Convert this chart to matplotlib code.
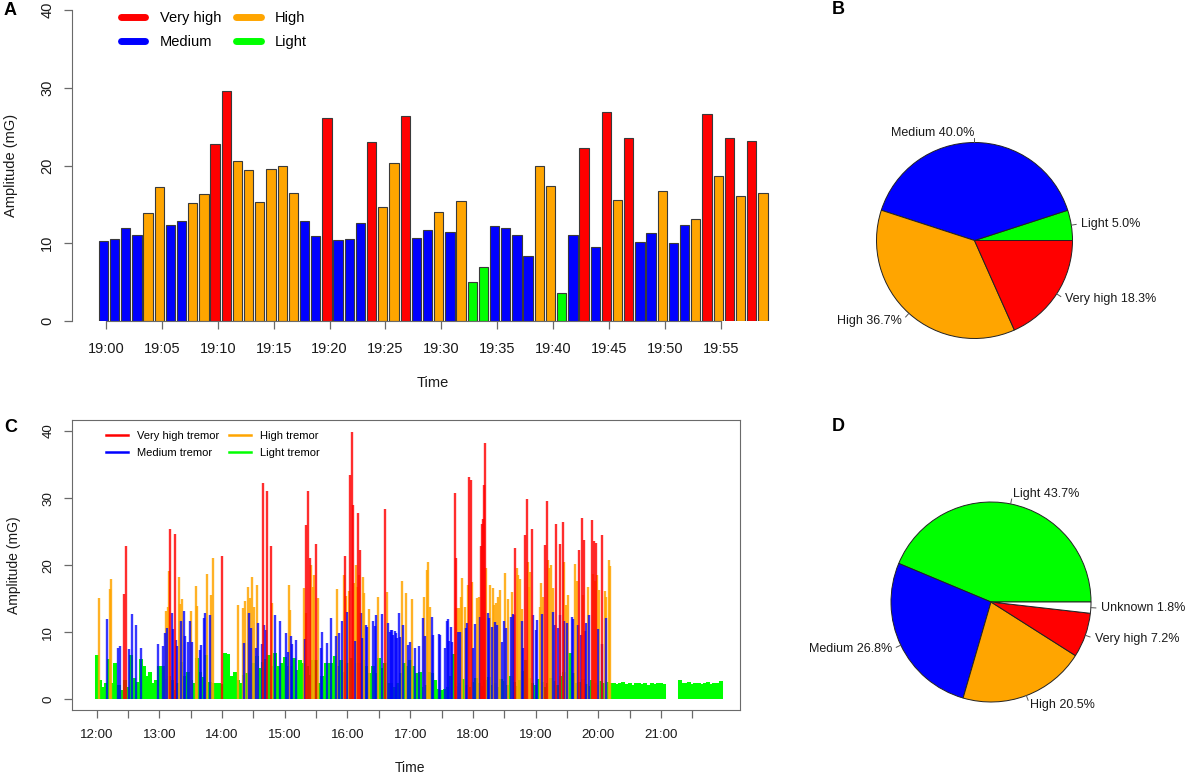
import numpy as np
import matplotlib
matplotlib.use("Agg")
import matplotlib.pyplot as plt
from matplotlib.lines import Line2D

plt.rcParams['font.family'] = ['Liberation Sans', 'DejaVu Sans']

### Daten
# A: one bar per minute, 19:00 - 19:59
minute_amp = [10.3, 10.5, 11.9, 11.0, 13.9, 17.2, 12.3, 12.8, 15.2, 16.3,
              22.8, 29.6, 20.6, 19.4, 15.3, 19.5, 19.9, 16.4, 12.9, 10.9,
              26.1, 10.4, 10.5, 12.6, 23.0, 14.6, 20.3, 26.4, 10.7, 11.7,
              14.0, 11.4, 15.4, 5.0, 6.9, 12.2, 11.9, 11.0, 8.3, 20.0,
              17.4, 3.6, 11.1, 22.2, 9.5, 26.9, 15.5, 23.6, 10.1, 11.3,
              16.7, 10.0, 12.4, 13.1, 26.6, 18.6, 23.5, 16.1, 23.2, 16.4]
minute_cls = list("MMMMHHMMHH" "VVHHHHHHMM" "VMMMVHHVMM"
                  "HMHLLMMMMH" "HLMVMVHVMM" "HMMHVHVHVH")
minute_labels = ["19:%02d" % m for m in range(0, 60, 5)]

# D: share of the whole day
day_classes = ["Light", "Medium", "High", "Very high", "Unknown"]
day_share = [43.7, 26.8, 20.5, 7.2, 1.8]

# C: amplitude per minute after 12:00, by class
light_step = 3
light_v = [6.6, 2.9, 1.9, 2.5, 6.0, 2.4, 5.4, 2.1, 1.4, 2.9,
           1.9, 6.6, 3.1, 2.6, 6.0, 4.9, 3.4, 4.1, 2.4, 2.9,
           4.9, 4.9, 3.0, 3.5, 2.9, 1.4, 2.4, 5.6, 3.4, 4.1,
           2.9, 2.4, 6.1, 4.1, 3.3, 6.6, 2.6, 2.5, 2.5, 2.4,
           2.3, 6.9, 6.8, 3.4, 4.0, 2.9, 2.4, 3.6, 3.9, 3.9,
           5.4, 6.4, 4.6, 5.6, 6.0, 6.6, 4.9, 6.9, 5.0, 5.4,
           6.3, 4.9, 4.9, 6.1, 4.4, 5.8, 5.4, 4.9, 3.6, 5.9,
           5.9, 2.4, 3.4, 5.4, 5.4, 5.4, 6.4, 4.9, 5.9, 4.1,
           5.4, 6.1, 4.4, 5.4, 5.4, 5.9, 4.9, 3.9, 4.9, 3.9,
           6.1, 4.6, 5.4, 2.4, 2.4, 1.9, 2.4, 3.9, 5.4, 4.9,
           5.9, 4.9, 3.9, 4.0, 1.9, 2.1, 4.0, 3.9, 2.9, 1.6,
           1.4, 1.5, 1.9, 3.4, 6.8, 2.0, 2.5, 3.0, 2.2, 1.8,
           2.6, 3.1, 2.4, 2.0, 2.8, 3.3, 2.1, 2.5, 1.9, 3.0,
           2.7, 2.2, 3.4, 2.6, 2.0, 2.9, 4.2, 5.9, 3.1, 2.4,
           2.2, 3.0, 2.6, 1.8, 2.5, 3.2, 2.7, 2.1, 3.5, 4.0,
           2.8, 6.9, 3.9, 2.4, 2.6, 3.0, 2.3, 2.0, 2.9, 2.5,
           2.2, 2.7, 2.4,
           2.6, 2.4, 2.5, 2.3, 2.4, 2.6, 2.3, 2.4, 2.2, 2.5,
           2.4, 2.3, 2.5, 2.2, 2.4, 2.3, 2.5, 2.4, 2.3,
           0, 0, 0, 0,
           2.8, 2.5, 2.4, 2.6, 2.3, 2.4, 2.5, 2.3, 2.4, 2.6,
           2.3, 2.5, 2.4, 2.7]

high_t = [2, 13, 14, 66, 68, 69, 79, 80, 82, 90, 95, 96, 106, 109, 111,
          135, 140, 142, 145, 147, 149, 151, 153, 168, 184, 185, 198, 200,
          205, 207, 208, 212, 230, 237, 239, 241, 246, 248, 249, 251, 255,
          256, 261, 269, 278, 292, 296, 302, 313, 316, 317, 319, 345, 347,
          349, 350, 352, 355, 359, 364, 366, 373, 376, 379, 380, 382, 384,
          386, 391, 394, 397, 402, 403, 405, 407, 413, 414, 415, 424, 425,
          427, 432, 433, 435, 437, 447, 449, 451, 458, 460, 465, 470, 475,
          477, 479, 481, 486, 487, 490, 491]
high_v = [15.1, 16.4, 17.9, 13.1, 13.8, 19.1, 18.3, 14.2, 14.9, 13.2, 16.9, 13.9, 18.7, 15.6, 21.0,
          14.0, 13.6, 14.6, 16.8, 15.1, 18.2, 13.8, 17.1, 14.4, 17.0, 13.3, 16.6, 12.9,
          20.0, 16.8, 18.6, 15.1, 16.5, 18.6, 15.4, 16.1, 17.3, 20.0, 16.8, 18.6, 18.3,
          15.8, 13.4, 15.3, 16.0, 17.7, 15.8, 15.0, 15.2, 19.3, 20.4, 13.7, 13.6, 13.6,
          15.2, 18.1, 13.8, 17.0, 17.5, 15.1, 15.3, 19.5, 17.0, 16.6, 14.1, 14.4, 15.3,
          16.3, 18.9, 15.0, 16.0, 19.5, 18.6, 18.0, 13.5, 20.4, 16.8, 19.0, 13.8, 17.3,
          15.3, 20.8, 19.6, 20.0, 16.6, 20.5, 14.1, 15.5, 20.1, 17.6, 15.6, 16.8, 18.7,
          17.6, 18.6, 16.3, 16.2, 15.3, 20.7, 19.8]

medium_t = [10, 20, 22, 31, 34, 38, 42, 59, 63, 65, 67, 72, 73, 76, 77, 81, 84,
            85, 87, 89, 91, 99, 100, 103, 104, 108, 141, 146, 148, 152, 154,
            158, 160, 162, 171, 175, 181, 183, 186, 187, 191, 199, 215, 216,
            220, 224, 229, 232, 235, 240, 247, 253, 254, 258, 259, 264, 266,
            267, 273, 279, 281, 282, 283, 284, 285, 286, 287, 289, 290, 293,
            298, 300, 305, 308, 312, 314, 321, 322, 328, 329, 333, 335, 336,
            337, 339, 340, 346, 348, 353, 354, 360, 362, 367, 374, 375, 378,
            381, 383, 388, 390, 392, 396, 398, 399, 407, 408, 418, 420, 421,
            426, 437, 439, 441, 443, 447, 450, 455, 456, 461, 463, 467, 468,
            471, 480, 484, 487]
medium_v = [11.9, 7.6, 8.0, 7.5, 12.7, 11.1, 7.6, 8.2, 8.0, 9.9, 10.7, 12.9, 10.5, 8.8, 7.9, 11.6, 13.1,
            9.4, 8.5, 11.6, 8.5, 7.4, 8.1, 12.1, 12.8, 12.6, 8.4, 12.9, 10.6, 7.6, 11.3,
            8.2, 11.1, 10.4, 12.6, 11.7, 9.9, 7.1, 9.5, 8.3, 8.9, 9.0, 7.7, 10.0,
            8.4, 12.1, 9.4, 9.9, 11.7, 13.0, 8.7, 12.8, 9.1, 11.1, 10.8, 11.6, 10.9,
            12.6, 12.7, 11.3, 10.1, 10.3, 10.3, 9.6, 10.2, 9.9, 9.1, 12.8, 9.3, 11.1,
            8.1, 8.5, 7.7, 7.9, 12.1, 9.5, 12.3, 9.6, 9.7, 9.6, 7.7, 11.6, 11.9,
            8.7, 10.8, 8.6, 10.0, 10.0, 10.7, 11.4, 7.6, 11.2, 12.3, 12.8, 12.1, 10.8,
            11.5, 11.1, 8.6, 11.7, 10.6, 12.3, 12.7, 12.6, 11.6, 7.6, 12.6, 10.3, 11.8,
            12.7, 13.0, 11.1, 10.6, 12.6, 11.7, 11.3, 12.2, 11.9, 11.1, 9.6, 10.2, 11.3,
            12.5, 10.5, 8.2, 12.1]

veryhigh_t = [26, 28, 70, 75, 120, 159, 163, 167, 200, 202, 204, 210, 238, 242,
              244, 245, 250, 252, 276, 343, 344, 356, 358, 368, 369, 370, 371,
              372, 400, 410, 412, 417, 429, 431, 440, 443, 446, 462, 464, 466,
              474, 476, 478, 484]
veryhigh_v = [15.7, 22.8, 25.4, 24.6, 21.4, 32.2, 31.1, 22.9, 26.0, 31.1, 21.0, 23.1, 21.3, 33.4,
              39.8, 29.0, 27.8, 22.3, 28.3, 30.7, 21.1, 33.2, 32.7, 22.8, 26.1, 26.9, 32.0,
              38.2, 22.6, 24.5, 29.9, 25.4, 23.0, 29.6, 26.2, 23.1, 26.5, 22.3, 27.0, 23.7,
              26.7, 23.6, 23.3, 24.5]

### Layout
W, H = 1192, 777
fig = plt.figure(figsize=(W / 100, H / 100), dpi=100)

fx = lambda x: x / W
fy = lambda y: 1 - y / H

col = {'V': '#FF0000', 'H': '#FFA500', 'M': '#0000FF', 'L': '#00FF00',
       'Very high': '#FF0000', 'High': '#FFA500', 'Medium': '#0000FF',
       'Light': '#00FF00', 'Unknown': '#FFFFFF'}
names = {'V': 'Very high', 'H': 'High', 'M': 'Medium', 'L': 'Light'}
axcol = '#6a6a6a'
txtcol = '#1a1a1a'


def style_axis(ax, size):
	ax.tick_params(axis='both', direction='out', length=5.8, width=0.9,
	               color=axcol, labelcolor=txtcol, labelsize=size, pad=7)
	for lab in ax.get_yticklabels():
		lab.set_rotation(90)
		lab.set_va('center')


### A
axA = fig.add_axes([fx(72), fy(321), (794 - 72) / W, (321 - 10) / H])
pos = np.arange(len(minute_amp))
axA.bar(pos, minute_amp, width=0.833, color=[col[c] for c in minute_cls],
        edgecolor='#3a3a3a', linewidth=0.8)
axA.set_xlim(-2.8, 61.78)
axA.set_ylim(0, 40)
for s in ['top', 'right']:
	axA.spines[s].set_visible(False)
tickpos = np.arange(0, 60, 5) + 0.24
axA.spines['left'].set_bounds(0, 40)
axA.spines['bottom'].set_bounds(tickpos[0], tickpos[-1])
axA.spines['left'].set_color(axcol)
axA.spines['bottom'].set_color(axcol)
axA.set_xticks(tickpos)
axA.set_xticklabels(minute_labels)
axA.set_yticks([0, 10, 20, 30, 40])
style_axis(axA, 10.5)
axA.tick_params(axis='x', pad=9)

hA = [Line2D([], [], color=col[k], lw=5, solid_capstyle='round') for k in ['V', 'M', 'H', 'L']]
axA.legend(hA, [names[k] for k in ['V', 'M', 'H', 'L']], ncol=2, frameon=False,
           loc='upper left', bbox_to_anchor=((120.5 - 72) / 722, (321 - 11) / 311),
           borderpad=0, borderaxespad=0, handlelength=1.7, handletextpad=1.0,
           columnspacing=1.0, labelspacing=0.7, fontsize=10.5)

fig.text(fx(433), fy(383), "Time", ha='center', va='center', fontsize=10.5, color=txtcol)
fig.text(fx(11), fy(165), "Amplitude (mG)", ha='center', va='center', rotation=90,
         fontsize=10.5, color=txtcol)


### pie helper
def draw_pie(ax, sizes, labels, colors, r):
	wedges, texts = ax.pie(sizes, labels=labels, colors=colors, radius=r,
	                       labeldistance=1.1, startangle=0, counterclock=True,
	                       wedgeprops=dict(edgecolor='#222222', linewidth=0.7),
	                       textprops=dict(fontsize=9, color=txtcol))
	for w in wedges:
		a = np.deg2rad((w.theta1 + w.theta2) / 2)
		ax.plot([r * np.cos(a), 1.05 * r * np.cos(a)], [r * np.sin(a), 1.05 * r * np.sin(a)],
		        color='#555555', lw=0.7)
	ax.set_xlim(-1.6, 1.6)
	ax.set_ylim(-1.6, 1.6)
	ax.set_aspect('equal')
	ax.axis('off')


### B
order = ['L', 'M', 'H', 'V']
counts = [minute_cls.count(k) for k in order]
share = 100 * np.array(counts) / len(minute_cls)
axB = fig.add_axes([fx(974.5 - 160), fy(240.5 + 160), 320 / W, 320 / H])
draw_pie(axB, counts, ["%s %.1f%%" % (names[k], p) for k, p in zip(order, share)],
         [col[k] for k in order], 0.98)

### D
axD = fig.add_axes([fx(991 - 160), fy(602 + 160), 320 / W, 320 / H])
draw_pie(axD, day_share, ["%s %.1f%%" % (n, p) for n, p in zip(day_classes, day_share)],
         [col[n] for n in day_classes], 1.0)

### C
axC = fig.add_axes([fx(72), fy(710), 668 / W, 290 / H])
light_t = np.arange(len(light_v)) * light_step
axC.vlines(light_t, 0, light_v, colors=col['L'], linewidth=2.9)
axC.vlines(high_t, 0, high_v, colors=col['H'], linewidth=1.7, alpha=0.85)
axC.vlines(medium_t, 0, medium_v, colors=col['M'], linewidth=1.7, alpha=0.78)
axC.vlines(veryhigh_t, 0, veryhigh_v, colors=col['V'], linewidth=1.7, alpha=0.82)
axC.set_xlim(-23.6, 615.6)
axC.set_ylim(-1.6, 41.64)
for s in axC.spines.values():
	s.set_color(axcol)
axC.set_xticks(np.arange(0, 541, 60))
axC.set_xticklabels(["%d:00" % (12 + m // 60) for m in range(0, 541, 60)])
axC.set_xticks(np.arange(30, 571, 60), minor=True)
axC.set_yticks([0, 10, 20, 30, 40])
style_axis(axC, 9.6)
axC.tick_params(axis='x', which='minor', direction='out', length=5.8, width=0.9, color=axcol)
axC.tick_params(axis='x', pad=8)

hC = [Line2D([], [], color=col[k], lw=1.8) for k in ['V', 'M', 'H', 'L']]
axC.legend(hC, ["Very high tremor", "Medium tremor", "High tremor", "Light tremor"],
           ncol=2, frameon=False, loc='upper left',
           bbox_to_anchor=((106 - 72) / 668, (710 - 431) / 290),
           borderpad=0, borderaxespad=0, handlelength=2.0, handletextpad=0.8,
           columnspacing=0.84, labelspacing=0.65, fontsize=8)

fig.text(fx(410), fy(768), "Time", ha='center', va='center', fontsize=10, color=txtcol)
fig.text(fx(14), fy(565), "Amplitude (mG)", ha='center', va='center', rotation=90,
         fontsize=10, color=txtcol)

### panel letters
for letter, x, y in [('A', 4, 2), ('B', 832, 1), ('C', 4, 419), ('D', 832, 418)]:
	fig.text(fx(x), fy(y), letter, ha='left', va='top', fontsize=13, fontweight='bold', color='black')

fig.savefig("out.png", dpi=100)
